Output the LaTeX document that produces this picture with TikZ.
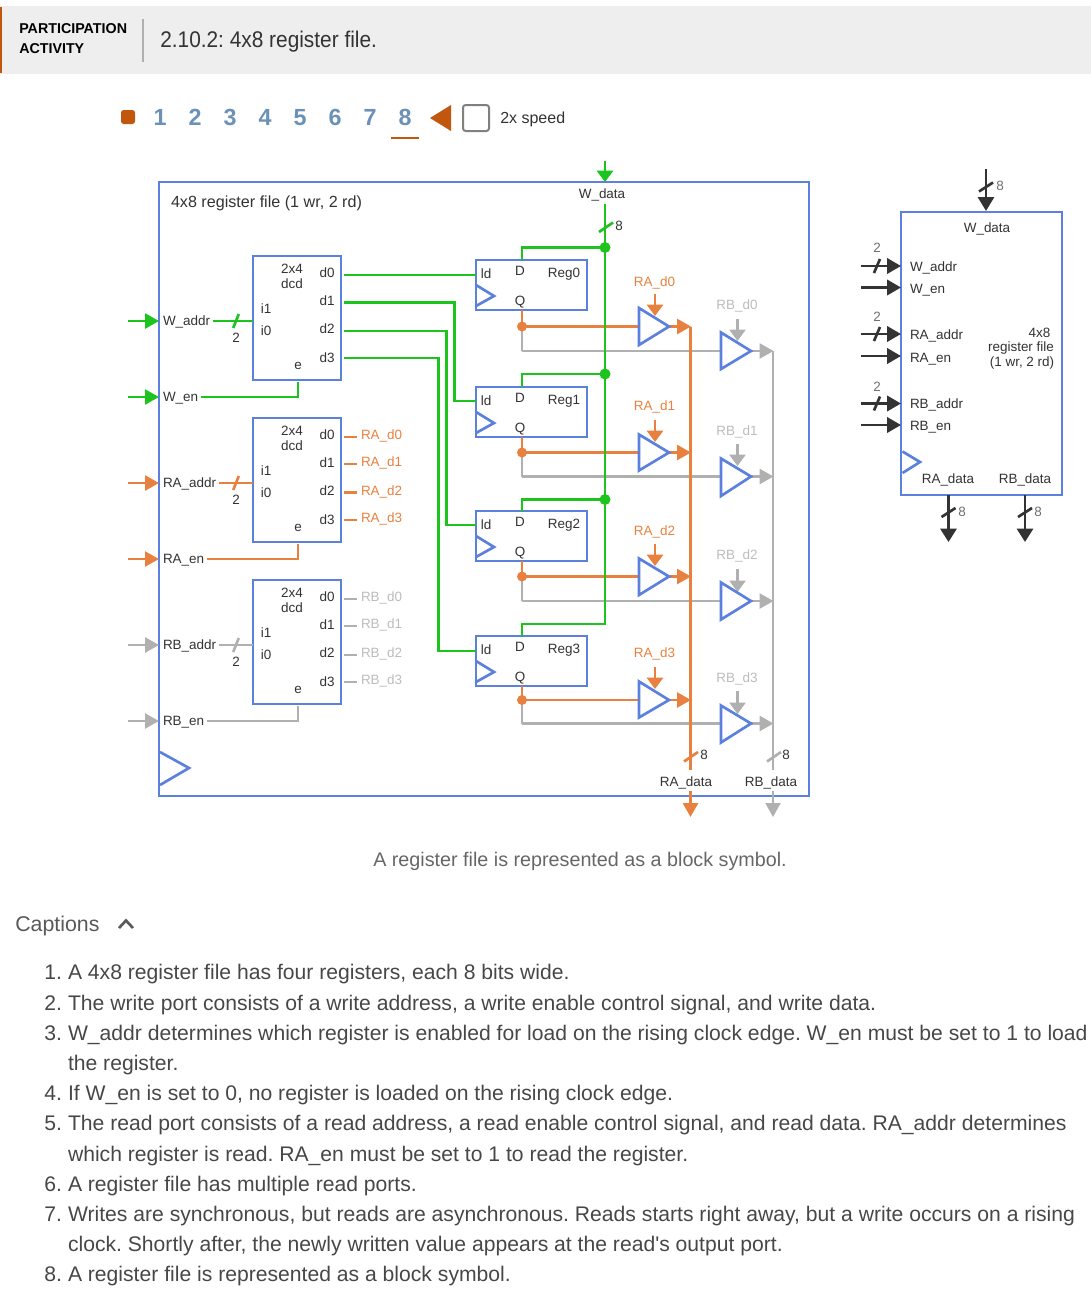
\documentclass[tikz,border=0pt]{standalone}
\usepackage{fontspec}
\setmainfont{Liberation Sans}
\newfontfamily\narrowf[FakeStretch=0.92]{Liberation Sans}
\usetikzlibrary{arrows.meta}
\frenchspacing
\definecolor{bl}{HTML}{5B80DE}
\definecolor{gn}{HTML}{1DC41D}
\definecolor{og}{HTML}{E8813F}
\definecolor{gy}{HTML}{B0B0B0}
\definecolor{dk}{HTML}{333333}
\definecolor{acc}{HTML}{C1560F}
\definecolor{numc}{HTML}{6C91B8}
\definecolor{band}{HTML}{EEEEEE}
\newcommand{\fnt}[1]{\fontsize{#1}{#1}\selectfont}
\tikzset{
 x=0.75pt,y=-0.75pt,
 lab/.style={inner sep=0pt,outer sep=0pt,text=dk,font=\fnt{10.1},text height=9.4pt,text depth=1pt},
 alab/.style={lab,text=og},
 blab/.style={lab,text=gy!85!white},
 nlab/.style={lab,text=dk!80!white},
 caption/.style={inner sep=0pt,outer sep=0pt,text=dk!90!white,font=\fnt{15.85},text height=13pt,text depth=2pt},
 num/.style={inner sep=0pt,outer sep=0pt,text=numc,font=\fnt{17.5}\bfseries,text height=12.6pt,text depth=0pt},
 blockbox/.style={draw=bl,line width=1.5pt,fill=white,inner sep=0pt,outer sep=0pt},
 gw/.style={draw=gn,line width=1.6pt},
 ow/.style={draw=og,line width=1.6pt},
 yw/.style={draw=gy,line width=1.6pt},
 kw/.style={draw=dk,line width=2.2pt},
 thickw/.style={line width=2.05pt},
 big/.style={-{Triangle[length=10.5pt,width=11.25pt]}},
 ctl/.style={-{Triangle[length=8.5pt,width=12pt]}},
 buf/.style={draw=bl,line width=2pt,fill=white,line join=miter},
 slashm/.style={line width=2pt},
}
\newcommand{\capl}[4]{\node[caption,anchor=west] (cap#1) at (#2,#3) {#4};}
\newcommand{\hslash}[2]{\draw[#1,slashm] ([shift={(-2.8,7)}]#2) -- ([shift={(2.8,-7)}]#2);}
\newcommand{\vslash}[2]{\draw[#1,slashm] ([shift={(-7,5)}]#2) -- ([shift={(7,-4.5)}]#2);}
\begin{document}
\begin{tikzpicture}
\useasboundingbox (0,0) rectangle (1091,1289);
% header
\fill[band] (0,6) rectangle (1091,74);
\fill[acc] (0,7) rectangle (2.2,73);
\draw[draw=gy,line width=1.5pt] (143,19) -- (143,62);
\node[inner sep=0pt,anchor=west,font=\fnt{10.7}\bfseries,text=black] (hp) at (19,29) {PARTICIPATION};
\node[inner sep=0pt,anchor=west,font=\fnt{10.7}\bfseries,text=black] (ha) at (19,48.5) {ACTIVITY};
\node[inner sep=0pt,anchor=west,font=\narrowf\fnt{17},text=dk] (ht) at (160,42) {2.10.2: 4x8 register file.};
% controls
\fill[acc,rounded corners=2pt] (121,110) rectangle (135,124);
\foreach \n/\xx in {1/160,2/195,3/230,4/265,5/300,6/335,7/370,8/405}{
  \node[num] (step\n) at (\xx,117) {\n};
}
\fill[acc] (391,137) rectangle (419,139);
\fill[acc] (430,118) -- (451,105) -- (451,131) -- cycle;
\draw[draw=gray,line width=1.5pt,rounded corners=2pt] (463,105) rectangle (489,131);
\node[inner sep=0pt,anchor=west,font=\fnt{12},text=dk] (speed) at (500,119) {2x speed};
% main box
\node[blockbox,fill=none,anchor=north west,minimum width=487.5pt,minimum height=460.5pt] (main) at (159,182) {};
\node[lab,anchor=west,font=\fnt{12.1}] (mtitle) at (171,202) {4x8 register file (1 wr, 2 rd)};
\draw[buf,fill=none] (160,752) -- (189,768) -- (160,785);
% decoders
\foreach \k/\t in {w/256,a/418,b/580}{
  \node[blockbox,minimum width=66pt,minimum height=93pt] (dec\k) at (297,\t+62) {};
  \node[lab] (\k-n1) at (292,\t+12) {2x4};
  \node[lab] (\k-n2) at (292,\t+27) {dcd};
  \node[lab] (\k-i1) at (266,\t+52) {i1};
  \node[lab] (\k-i0) at (266,\t+74) {i0};
  \node[lab] (\k-e) at (298,\t+108) {e};
  \node[lab] (\k-d0) at (327,\t+16) {d0};
  \node[lab] (\k-d1) at (327,\t+44) {d1};
  \node[lab] (\k-d2) at (327,\t+72) {d2};
  \node[lab] (\k-d3) at (327,\t+101) {d3};
}
% decoder read outputs
\foreach \j/\ya/\la/\lw in {0/437/434/2.05pt,1/464/461/2.05pt,2/492.5/490/1.6pt,3/520/517/1.6pt}{
  \coordinate (das\j) at (344,\ya); \coordinate (dae\j) at (357,\ya);
  \draw[ow,line width=\lw] (das\j) -- (dae\j);
  \node[alab,anchor=west] (lra\j) at (361,\la) {RA\_d\j};
}
\foreach \j/\ya/\la/\lw in {0/599/596/2.05pt,1/626/623/2.05pt,2/655/652/1.6pt,3/682/679/1.6pt}{
  \coordinate (dbs\j) at (344,\ya); \coordinate (dbe\j) at (357,\ya);
  \draw[yw,line width=\lw] (dbs\j) -- (dbe\j);
  \node[blab,anchor=west] (lrb\j) at (361,\la) {RB\_d\j};
}
% inputs
\foreach \k/\st/\nm/\ya/\yb/\xa/\xb in {w/gw/W/321/397/213/201,a/ow/RA/483/559/219/207,b/yw/RB/645/721/219/207}{
  \coordinate (\k as) at (128,\ya); \coordinate (\k at) at (159,\ya);
  \coordinate (\k es) at (128,\yb); \coordinate (\k et) at (159,\yb);
  \draw[\st,thickw,big] (\k as) -- (\k at);
  \draw[\st,big] (\k es) -- (\k et);
  \node[lab,anchor=west] (\k addr) at (163,\ya-1) {\nm\_addr};
  \node[lab,anchor=west] (\k en) at (163,\yb-1) {\nm\_en};
  \coordinate (\k aw) at (\xa,\ya); \coordinate (\k ad) at (253,\ya);
  \coordinate (\k em) at (\xb,\yb); \coordinate (\k ec) at (298,\yb); \coordinate (\k ed) at (298,\yb-15);
  \draw[\st,thickw] (\k aw) -- (\k ad);
  \draw[\st,line join=miter] (\k em) -- (\k ec) -- (\k ed);
  \coordinate (\k sl) at (236,\ya);
  \hslash{\st}{\k sl}
  \node[lab] (\k two) at (236,\ya+16) {2};
}
% registers
\foreach \i/\t in {0/260,1/387,2/511,3/636}{
  \node[blockbox,anchor=north west,minimum width=83.25pt,minimum height=37.5pt] (reg\i) at (476,\t) {};
  \draw[buf,fill=none] (476,\t+25) -- (494,\t+36) -- (476,\t+46);
  \node[lab] (ld\i) at (486,\t+13) {ld};
  \node[lab] (dd\i) at (520,\t+10) {D};
  \node[lab] (qq\i) at (520,\t+40) {Q};
  \node[lab] (rn\i) at (564,\t+12) {Reg\i};
}
% read paths
\foreach \i/\t/\oy/\gyy/\ata/\aba/\btb/\bbb/\la/\ca/\ta/\lb/\cb/\tb/\lo/\lg in {
 0/260/326.5/351/308/345/332.5/369/281/294/316/304/319/341/1.6pt/2.05pt,
 1/387/452.5/476.5/434.5/470.5/458.5/496/405/420/442/430/444/466/2.05pt/1.6pt,
 2/511/576.5/601/558.5/595/582.5/619.5/530/544/566/554/569/592/2.05pt/1.6pt,
 3/636/700/723.5/681.5/717.5/705.5/742.5/652/667/689/677/691/714/2.05pt/2.05pt}{
  \coordinate (q\i) at (522,\t+50);
  \coordinate (j\i) at (522,\oy);
  \coordinate (k\i) at (522,\gyy);
  \coordinate (ai\i) at (639,\oy);
  \coordinate (bi\i) at (721,\gyy);
  \coordinate (ao\i) at (669,\oy);
  \coordinate (bo\i) at (751,\gyy);
  \coordinate (at\i) at (691,\oy);
  \coordinate (bt\i) at (773.5,\gyy);
  \coordinate (ac\i) at (655,\ca);
  \coordinate (act\i) at (655,\ta);
  \coordinate (bc\i) at (737.5,\cb);
  \coordinate (bct\i) at (737.5,\tb);
  \draw[yw] (j\i) -- (k\i);
  \draw[yw,line width=\lg] (k\i) -- (bi\i);
  \draw[yw,thickw,big] (bo\i) -- (bt\i);
  \draw[yw,ctl] (bc\i) -- (bct\i);
  \node[blab] (tb\i) at (737,\lb) {RB\_d\i};
  \draw[ow] (q\i) -- (j\i);
  \draw[ow,line width=\lo] (j\i) -- (ai\i);
  \draw[ow,thickw,big] (ao\i) -- (at\i);
  \draw[ow,thickw,ctl] (ac\i) -- (act\i);
  \node[alab] (ta\i) at (654.5,\la) {RA\_d\i};
  \fill[og] (j\i) circle (5);
  \draw[buf] (639,\ata) -- (669,\oy) -- (639,\aba) -- cycle;
  \draw[buf] (721,\btb) -- (751,\gyy) -- (721,\bbb) -- cycle;
}
% buses
\coordinate (gbt) at (773,351); \coordinate (gbb) at (773,770);
\coordinate (obt) at (690.5,326.5); \coordinate (obb) at (690.5,770);
\coordinate (gos) at (773,791); \coordinate (got) at (773,817);
\coordinate (oos) at (690.5,791); \coordinate (oot) at (690.5,817);
\draw[yw] (gbt) -- (gbb);
\draw[yw,big] (gos) -- (got);
\coordinate (gsl) at (774,756.5);
\vslash{yw}{gsl}
\draw[ow,thickw] (obt) -- (obb);
\draw[ow,thickw,big] (oos) -- (oot);
\coordinate (osl) at (691,756.5);
\vslash{ow}{osl}
\node[lab] (e8a) at (704,754) {8};
\node[lab] (e8b) at (786,754) {8};
\node[lab] (radata) at (686,781) {RA\_data};
\node[lab] (rbdata) at (771,781) {RB\_data};
% write enables
\coordinate (d0s) at (344,275); \coordinate (d0e) at (476,275);
\coordinate (d1s) at (344,302.5); \coordinate (d1m) at (454.5,302.5); \coordinate (d1n) at (454.5,401); \coordinate (d1e) at (476,401);
\coordinate (d2s) at (344,331); \coordinate (d2m) at (446.5,331); \coordinate (d2n) at (446.5,525); \coordinate (d2e) at (476,525);
\coordinate (d3s) at (344,358); \coordinate (d3m) at (438.5,358); \coordinate (d3n) at (438.5,651); \coordinate (d3e) at (476,651);
\draw[gw,thickw] (d0s) -- (d0e);
\draw[gw,thickw,line join=miter] (d1s) -- (d1m) -- (d1n) -- (d1e);
\draw[gw,line join=miter] (d2s) -- (d2m) -- (d2n) -- (d2e);
\draw[gw,line join=miter] (d3s) -- (d3m) -- (d3n) -- (d3e);
% write data
\coordinate (wts) at (605,161); \coordinate (wtt) at (605,182);
\coordinate (wbs) at (605,204); \coordinate (wbm) at (605,624); \coordinate (wbn) at (522,624); \coordinate (wbe) at (522,636);
\draw[gw,thickw,ctl] (wts) -- (wtt);
\node[lab] (wdata) at (602,193) {W\_data};
\draw[gw,thickw,line join=miter] (wbs) -- (wbm) -- (wbn) -- (wbe);
\coordinate (wsl) at (606,227);
\vslash{gw}{wsl}
\node[lab] (w8) at (619,225) {8};
\foreach \i/\yy/\lw in {0/247.5/2.05pt,1/374/1.6pt,2/499.5/2.05pt}{
  \coordinate (wj\i) at (605,\yy);
  \coordinate (wc\i) at (522,\yy);
  \coordinate (wd\i) at (522,\yy+12.5);
  \draw[gw,line width=\lw,line join=miter] (wj\i) -- (wc\i) -- (wd\i);
  \fill[gn] (wj\i) circle (5.5);
}
% block symbol
\node[blockbox,fill=none,anchor=north west,minimum width=120.75pt,minimum height=212.25pt] (sym) at (901,212) {};
\draw[buf,fill=none] (902.5,451.5) -- (920,462) -- (902.5,473);
\coordinate (sws) at (986,169); \coordinate (swt) at (986,211);
\draw[kw,-{Triangle[length=10.5pt,width=12pt]}] (sws) -- (swt);
\coordinate (swl) at (986,187);
\draw[dk,slashm] ([shift={(-7,4.5)}]swl) -- ([shift={(7,-4.5)}]swl);
\node[nlab,text=dk!70!white] (s8) at (1000,185) {8};
\node[lab] (swd) at (987,227) {W\_data};
\foreach \n/\nm/\yy/\ly in {a/W\_addr/266/266,b/W\_en/287.5/288,c/RA\_addr/334/333.5,d/RA\_en/356/357,e/RB\_addr/403.5/403,f/RB\_en/425/425}{
  \coordinate (si\n) at (861,\yy); \coordinate (st\n) at (901,\yy);
  \draw[kw,-{Triangle[length=10.5pt,width=11.5pt]}] (si\n) -- (st\n);
  \node[lab,anchor=west] (sl\n) at (910,\ly) {\nm};
}
\foreach \n/\yy/\ty in {a/266/247,c/334/316,e/403.5/385.5}{
  \coordinate (ss\n) at (877,\yy);
  \draw[dk,slashm] ([shift={(-3,7)}]ss\n) -- ([shift={(3,-7)}]ss\n);
  \node[nlab,text=dk!70!white] (st2\n) at (877,\ty) {2};
}
\node[lab] (sr1) at (1039.5,331.5) {4x8};
\node[lab] (sr2) at (1021,346) {register file};
\node[lab] (sr3) at (1022,361) {(1 wr, 2 rd)};
\node[lab] (sra) at (948,478) {RA\_data};
\node[lab] (srb) at (1025,478) {RB\_data};
\foreach \n/\xx/\tx in {a/948.5/962,b/1025/1038}{
  \coordinate (so\n) at (\xx,495); \coordinate (se\n) at (\xx,542); \coordinate (sm\n) at (\xx,512.5);
  \draw[kw,-{Triangle[length=10pt,width=12pt]}] (so\n) -- (se\n);
  \draw[dk,slashm] ([shift={(-7,4.5)}]sm\n) -- ([shift={(7,-4.5)}]sm\n);
  \node[nlab,text=dk!70!white] (s8\n) at (\tx,511) {8};
}
% captions
\node[inner sep=0pt,font=\fnt{14.8},text=black!60] (figcap) at (580,861) {A register file is represented as a block symbol.};
\node[inner sep=0pt,anchor=west,font=\fnt{16},text=black!65] (capt) at (15,926) {Captions};
\draw[draw=black!65,line width=2pt] (119,928) -- (126,920.5) -- (133,928);
\capl{1}{68}{972}{A 4x8 register file has four registers, each 8 bits wide.}
\capl{2}{68}{1003}{The write port consists of a write address, a write enable control signal, and write data.}
\capl{3}{68}{1033}{W\_addr determines which register is enabled for load on the rising clock edge. W\_en must be set to 1 to load}
\capl{3b}{68}{1063}{the register.}
\capl{4}{68}{1093}{If W\_en is set to 0, no register is loaded on the rising clock edge.}
\capl{5}{68}{1123}{The read port consists of a read address, a read enable control signal, and read data. RA\_addr determines}
\capl{5b}{68}{1154}{which register is read. RA\_en must be set to 1 to read the register.}
\capl{6}{68}{1184}{A register file has multiple read ports.}
\capl{7}{68}{1214}{Writes are synchronous, but reads are asynchronous. Reads starts right away, but a write occurs on a rising}
\capl{7b}{68}{1244}{clock. Shortly after, the newly written value appears at the read\textquotesingle s output port.}
\capl{8}{68}{1274}{A register file is represented as a block symbol.}
\foreach \n/\yy in {1/972,2/1003,3/1033,4/1093,5/1123,6/1184,7/1214,8/1274}{
  \node[caption,anchor=east] (no\n) at (62,\yy) {\n.};
}
\end{tikzpicture}
\end{document}
